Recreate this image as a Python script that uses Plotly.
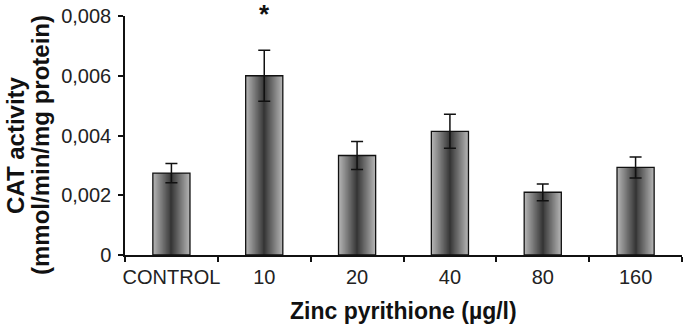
import plotly.graph_objects as go

categories = ["CONTROL", "10", "20", "40", "80", "160"]
cat_activity = [0.00274, 0.00600, 0.00333, 0.00414, 0.00210, 0.00293]
cat_error = [0.00032, 0.00085, 0.00047, 0.00057, 0.00028, 0.00035]
y_tickvals = [0, 0.002, 0.004, 0.006, 0.008]
y_ticktext = ["0", "0,002", "0,004", "0,006", "0,008"]
significant = ["10"]

BAR_W = 0.40
fig = go.Figure()

# cylinder-like horizontal shading: nested overlaid bars, light edges to dark centre
n_layers = 18
light = (180, 180, 180)
dark = (55, 55, 55)
for i in range(n_layers):
    t = i / (n_layers - 1)
    w = BAR_W * (1 - t) + 0.012 * t
    c = tuple(int(light[k] * (1 - t) + dark[k] * t) for k in range(3))
    fig.add_trace(go.Bar(
        x=categories, y=cat_activity, width=w,
        marker=dict(color="rgb(%d,%d,%d)" % c, line=dict(width=0)),
        showlegend=False, hoverinfo="skip"))

# outline + error bars
fig.add_trace(go.Bar(
    x=categories, y=cat_activity, width=BAR_W,
    marker=dict(color="rgba(0,0,0,0)", line=dict(color="#111", width=1.3)),
    error_y=dict(type="data", array=cat_error, visible=True,
                 color="#111", thickness=1.5, width=6),
    showlegend=False))

for cat in significant:
    fig.add_annotation(x=categories.index(cat), xref="x", yref="paper", y=1.01,
                       text="<b>*</b>", showarrow=False, yanchor="middle",
                       font=dict(size=26, color="#111", family="Liberation Sans"))

# y-axis title, two bold lines
for txt, xs in [("CAT activity", -110), ("(mmol/min/mg protein)", -85)]:
    fig.add_annotation(xref="paper", yref="paper", x=0, y=0.5, xshift=xs, yshift=-9.5,
                       text="<b>%s</b>" % txt, textangle=-90, showarrow=False,
                       xanchor="center", yanchor="middle",
                       font=dict(size=24, color="#111", family="Liberation Sans"))

# x-axis title
fig.add_annotation(xref="paper", yref="paper", x=0.5, y=0, yshift=-56,
                   text="<b>Zinc pyrithione (µg/l)</b>", showarrow=False,
                   xanchor="center", yanchor="middle",
                   font=dict(size=23, color="#111", family="Liberation Sans"))

fig.update_layout(
    width=685, height=331,
    margin=dict(l=125, r=3, t=16, b=76, autoexpand=False),
    barmode="overlay",
    plot_bgcolor="white", paper_bgcolor="white",
    font=dict(family="Liberation Sans", color="#222"),
    xaxis=dict(
        type="category", showgrid=False, showline=True, linecolor="#111", linewidth=1.5,
        ticks="outside", tickson="boundaries", ticklen=5, tickcolor="#111", tickwidth=1.5,
        tickangle=0, automargin=False, ticklabelstandoff=3,
        tickfont=dict(size=20, color="#222"),
        range=[-0.5, 5.5]),
    yaxis=dict(
        range=[0, 0.008], showgrid=False, zeroline=False, showline=True, automargin=False,
        linecolor="#111", linewidth=1.5, ticks="outside", ticklen=5, tickcolor="#111",
        tickwidth=1.5, tickvals=y_tickvals, ticktext=y_ticktext, ticklabelstandoff=3,
        tickfont=dict(size=20, color="#222")),
)

fig.write_html("out.html", config={"displayModeBar": False},
               post_script="document.body.style.margin='0';document.body.style.overflow='hidden';")
